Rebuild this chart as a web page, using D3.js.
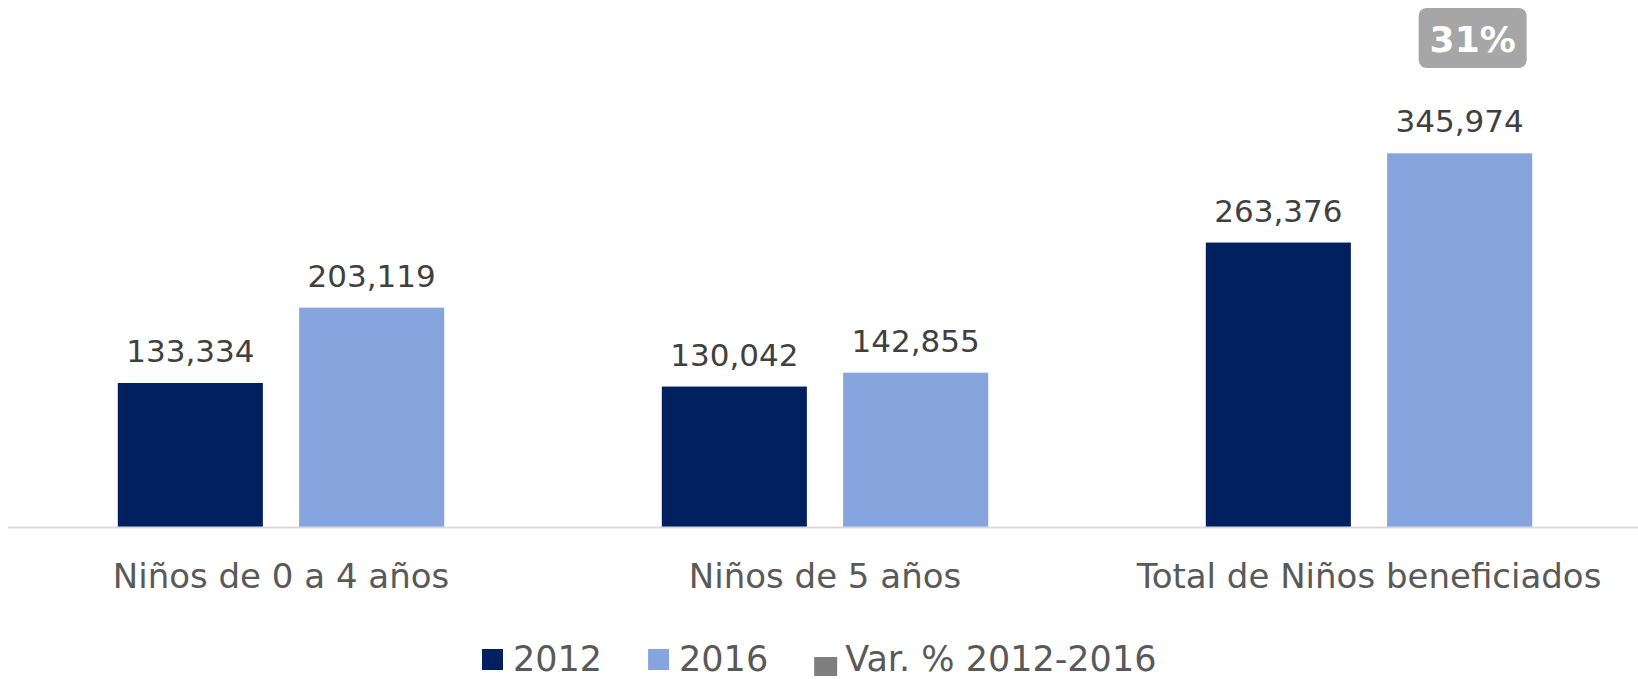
<!DOCTYPE html>
<html>
<head>
<meta charset="utf-8">
<script src="https://cdn.jsdelivr.net/npm/d3@7"></script>
<style>
  body { margin: 0; background: #fff; }
  text { font-family: "DejaVu Sans", Lato, sans-serif; }
</style>
</head>
<body>
<svg id="chart" width="1638" height="679"></svg>
<script>
var categories = ['Niños de 0 a 4 años', 'Niños de 5 años', 'Total de Niños beneficiados'];
var series = ['2012', '2016'];
var values2012 = [133334, 130042, 263376];
var values2016 = [203119, 142855, 345974];
var varPct = [null, null, 0.31];
var legendLabels = ['2012', '2016', 'Var. % 2012-2016'];
var colors = ['#00205f', '#86a4de', '#7f7f7f'];

var svg = d3.select('#chart');
var baseY = 527;

var x0 = d3.scaleBand()
  .domain(categories)
  .range([9, 1641])
  .paddingInner(0.4)
  .paddingOuter(0.2);

var x1 = d3.scaleBand()
  .domain(series)
  .range([0, x0.bandwidth()])
  .paddingInner(0.2);

var y = d3.scaleLinear()
  .domain([0, 400000])
  .range([baseY, 95]);

var color = d3.scaleOrdinal().domain(legendLabels).range(colors);

var rows = categories.map(function(c, i) {
  return { cat: c, vals: [
    { s: '2012', v: values2012[i] },
    { s: '2016', v: values2016[i] }
  ], pct: varPct[i] };
});

var groups = svg.selectAll('.group')
  .data(rows)
  .enter()
  .append('g')
  .attr('class', 'group')
  .attr('transform', function(d) { return 'translate(' + x0(d.cat) + ',0)'; });

groups.selectAll('rect')
  .data(function(d) { return d.vals; })
  .enter()
  .append('rect')
  .attr('x', function(d) { return x1(d.s); })
  .attr('y', function(d) { return y(d.v); })
  .attr('width', x1.bandwidth())
  .attr('height', function(d) { return baseY - y(d.v); })
  .attr('fill', function(d) { return color(d.s); });

groups.selectAll('.val')
  .data(function(d) { return d.vals; })
  .enter()
  .append('text')
  .attr('class', 'val')
  .attr('x', function(d) { return x1(d.s) + x1.bandwidth() / 2; })
  .attr('y', function(d) { return y(d.v) - 21; })
  .attr('text-anchor', 'middle')
  .attr('font-size', 31)
  .attr('fill', '#404040')
  .text(function(d) { return d3.format(',')(d.v); });

// variation badge
var pctGroups = groups.filter(function(d) { return d.pct != null; });
var badge = pctGroups.append('g')
  .attr('transform', function() {
    return 'translate(' + (x1('2016') + x1.bandwidth() / 2 + 13) + ',38)';
  });
badge.append('rect')
  .attr('x', -54).attr('y', -30)
  .attr('width', 108).attr('height', 60)
  .attr('rx', 8)
  .attr('fill', '#a6a6a6');
badge.append('text')
  .attr('text-anchor', 'middle')
  .attr('y', 14)
  .attr('font-size', 36)
  .attr('font-weight', 'bold')
  .attr('fill', '#fff')
  .text(function(d) { return d3.format('.0%')(d.pct); });

// axis line
svg.append('line')
  .attr('x1', 8).attr('x2', 1638)
  .attr('y1', baseY + 0.5).attr('y2', baseY + 0.5)
  .attr('stroke', '#d9d9d9')
  .attr('stroke-width', 2);

var xAxis = svg.append('g')
  .attr('transform', 'translate(0,' + baseY + ')')
  .call(d3.axisBottom(x0).tickSize(0).tickPadding(0));
xAxis.select('.domain').remove();
xAxis.selectAll('text')
  .attr('y', 61)
  .attr('dy', 0)
  .attr('font-size', 34)
  .attr('font-family', '"DejaVu Sans", Lato, sans-serif')
  .attr('fill', '#595959');

// legend
var lx = 482;
legendLabels.forEach(function(l, i) {
  var small = i == 2;
  svg.append('rect')
    .attr('x', lx)
    .attr('y', small ? 657 : 649)
    .attr('width', small ? 23 : 21)
    .attr('height', small ? 19 : 21)
    .attr('fill', color(l));
  var t = svg.append('text')
    .attr('x', lx + 31)
    .attr('y', 671)
    .attr('font-size', 35)
    .attr('fill', '#595959')
    .text(l);
  lx += 31 + t.node().getComputedTextLength() + 46;
});
</script>
</body>
</html>
